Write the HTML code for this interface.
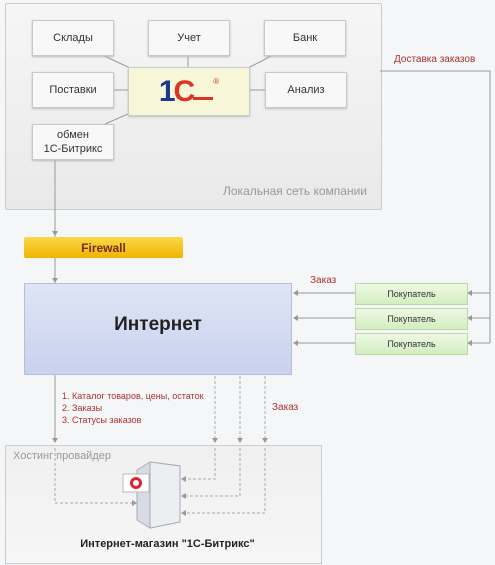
<!DOCTYPE html><html><head><meta charset="utf-8"><style>
body{margin:0;width:495px;height:565px;background:#f4f6f8;font-family:"Liberation Sans","DejaVu Sans",sans-serif;position:relative;overflow:hidden}
.a{position:absolute}
.b{position:absolute;background:#f8f8f8;border:1px solid #c8c8c8;box-shadow:0 1px 2px #bbb;font-size:11px;color:#333;display:flex;align-items:center;justify-content:center;text-align:center;line-height:14px}
.g{position:absolute;background:linear-gradient(#eef9e4,#d4edc0);border:1px solid #b9d8a5;font-size:9px;color:#333;display:flex;align-items:center;justify-content:center}
.r{color:#b03030;font-size:9px}
</style></head><body>
<div class="a" style="left:5px;top:3px;width:375px;height:205px;background:linear-gradient(#f6f6f6,#e9e9e9);border:1px solid #ccc;border-radius:2px"></div>
<div class="a" style="left:5px;top:445px;width:315px;height:117px;background:linear-gradient(#f0f0f0,#f6f6f6);border:1px solid #ccc"></div>
<svg class="a" style="left:0;top:0" width="495" height="565">
<g stroke="#999" stroke-width="1" fill="none">
<line x1="100" y1="54" x2="130" y2="68"/><line x1="188" y1="54" x2="188" y2="67"/><line x1="275" y1="54" x2="248" y2="68"/>
<line x1="112" y1="90" x2="128" y2="90"/><line x1="248" y1="90" x2="265" y2="90"/><line x1="105" y1="124" x2="128" y2="114"/>
<polyline points="380,71 490,71 490,343"/>
<line x1="55" y1="158" x2="55" y2="440"/>
<line x1="355" y1="293" x2="296" y2="293"/><line x1="355" y1="318" x2="296" y2="318"/><line x1="355" y1="343" x2="296" y2="343"/>
<line x1="490" y1="293" x2="470" y2="293"/><line x1="490" y1="318" x2="470" y2="318"/><line x1="490" y1="343" x2="470" y2="343"/>
</g>
<g stroke="#aaa" stroke-dasharray="3,2" fill="none">
<polyline points="292,293 215,293 215,440"/><polyline points="292,318 240,318 240,440"/><polyline points="292,343 265,343 265,440"/>
<polyline points="215,448 215,479 183,479"/><polyline points="240,448 240,496 183,496"/><polyline points="265,448 265,513 183,513"/>
<polyline points="55,448 55,503 132,503"/>
</g>
<g fill="#999">
<path d="M52,231 58,231 55,236z"/><path d="M52,278 58,278 55,283z"/><path d="M52,438 58,438 55,443z"/>
<path d="M212,438 218,438 215,443z"/><path d="M237,438 243,438 240,443z"/><path d="M262,438 268,438 265,443z"/>
<path d="M293,293 298,290 298,296z"/><path d="M293,318 298,315 298,321z"/><path d="M293,343 298,340 298,346z"/>
<path d="M467,293 472,290 472,296z"/><path d="M467,318 472,315 472,321z"/><path d="M467,343 472,340 472,346z"/>
<path d="M181,479 186,476 186,482z"/><path d="M181,496 186,493 186,499z"/><path d="M181,513 186,510 186,516z"/><path d="M137,503 132,500 132,506z"/>
</g>
<polygon points="137,470 150,462 180,466 180,522 150,528 137,520" fill="#d8dbe3" stroke="#aab"/>
<polygon points="150,462 180,466 180,522 150,528" fill="#eceef2" stroke="#aab"/>
<rect x="123" y="474" width="26" height="18" fill="#fff" stroke="#bbb"/>
<circle cx="136" cy="483" r="6" fill="#d23"/><circle cx="136" cy="483" r="3" fill="#fff"/>
</svg>
<div class="b" style="left:32px;top:20px;width:80px;height:34px">Склады</div>
<div class="b" style="left:148px;top:20px;width:80px;height:34px">Учет</div>
<div class="b" style="left:264px;top:20px;width:80px;height:34px">Банк</div>
<div class="b" style="left:32px;top:72px;width:80px;height:34px">Поставки</div>
<div class="b" style="left:265px;top:72px;width:80px;height:34px">Анализ</div>
<div class="b" style="left:32px;top:124px;width:80px;height:34px">обмен<br>1С-Битрикс</div>
<div class="a" style="left:128px;top:67px;width:120px;height:47px;background:#f8f6d8;border:1px solid #ccc;box-shadow:0 1px 2px #bbb;display:flex;align-items:center;justify-content:center">
<span style="font:bold 30px 'Liberation Sans',sans-serif;color:#d32;letter-spacing:-2px"><span style="color:#1a3b8c">1</span>C</span><span style="display:inline-block;width:20px;height:3px;background:#d32;margin-top:14px"></span><span style="color:#d32;font-size:8px;margin-top:-20px">®</span></div>
<div class="a" style="left:223px;top:184px;font-size:12px;color:#999">Локальная сеть компании</div>
<div class="a r" style="left:394px;top:54px;font-size:10px">Доставка заказов</div>
<div class="a" style="left:24px;top:237px;width:159px;height:21px;background:linear-gradient(#fbd84a,#eeb400);border-radius:2px;font-size:12px;font-weight:bold;color:#7a2a10;display:flex;align-items:center;justify-content:center">Firewall</div>
<div class="a" style="left:24px;top:283px;width:268px;height:92px;background:linear-gradient(#dfe5f5,#c9d2ee);border:1px solid #b5bfd8;font-size:19px;font-weight:bold;color:#222;display:flex;align-items:center;justify-content:center;box-sizing:border-box;padding-bottom:8px">Интернет</div>
<div class="g" style="left:355px;top:283px;width:111px;height:20px">Покупатель</div>
<div class="g" style="left:355px;top:308px;width:111px;height:20px">Покупатель</div>
<div class="g" style="left:355px;top:333px;width:111px;height:20px">Покупатель</div>
<div class="a r" style="left:310px;top:275px;font-size:10px">Заказ</div>
<div class="a r" style="left:272px;top:402px;font-size:10px">Заказ</div>
<div class="a r" style="left:62px;top:390px;line-height:12px">1. Каталог товаров, цены, остаток<br>2. Заказы<br>3. Статусы заказов</div>
<div class="a" style="left:13px;top:450px;font-size:11px;color:#999">Хостинг провайдер</div>
<div class="a" style="left:0;width:335px;top:538px;text-align:center;font-size:11px;font-weight:bold;color:#222">Интернет-магазин "1С-Битрикс"</div>
</body></html>
